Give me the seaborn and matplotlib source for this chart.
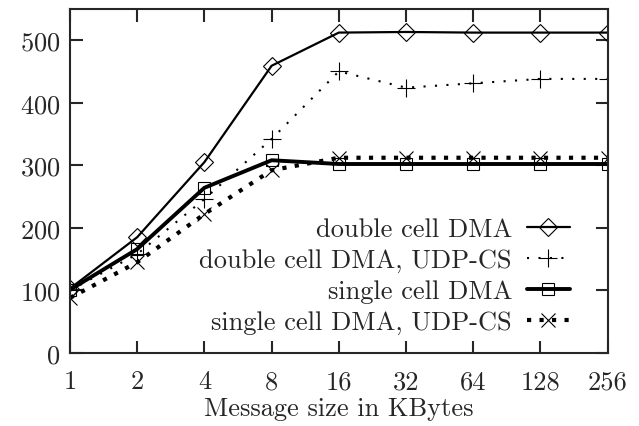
import numpy as np
import matplotlib
matplotlib.use("Agg")
import matplotlib.pyplot as plt
import pandas as pd
import seaborn as sns

sizes = ["1", "2", "4", "8", "16", "32", "64", "128", "256"]

double_dma = [103, 185, 305, 459, 512, 513, 512, 512, 512]
double_udp = [100, 158, 246, 342, 450, 424, 431, 438, 438]
single_dma = [101, 166, 264, 308, 302, 302, 302, 302, 302]
single_udp = [88, 145, 222, 292, 312, 312, 312, 312, 312]

labels = ["double cell DMA", "double cell DMA, UDP-CS",
          "single cell DMA", "single cell DMA, UDP-CS"]

sns.set_style("ticks")
plt.rcParams['font.family'] = ['cmr10', 'DejaVu Serif']
plt.rcParams['axes.formatter.use_mathtext'] = True

fig = plt.figure(figsize=(6.39, 4.27), dpi=100)
ax = fig.add_axes([0.1095, 0.171, 0.8415, 0.806])

x = np.arange(len(sizes))
series = [double_dma, double_udp, single_dma, single_udp]
styles = [
    dict(linestyle="-", linewidth=1.6, marker="D", markersize=9),
    dict(linestyle=(0, (1, 4.5)), linewidth=1.5, marker="+", markersize=13),
    dict(linestyle="-", linewidth=2.8, marker="s", markersize=9),
    dict(linestyle=(0, (1, 2)), linewidth=3.0, marker="x", markersize=10),
]

for vals, lab, st in zip(series, labels, styles):
    df = pd.DataFrame({"size": x, "bw": vals})
    sns.lineplot(data=df, x="size", y="bw", ax=ax, color="black", label=lab,
                 markerfacecolor="none", markeredgecolor="black",
                 markeredgewidth=0.8, **st)

fs = 19
ax.set_xlim(0, 8)
ax.set_ylim(0, 550)
ax.set_xticks(x)
ax.set_xticklabels(sizes)
ax.set_yticks([0, 100, 200, 300, 400, 500])
ax.tick_params(direction="in", length=9, width=1.5, top=True, right=True,
               labelsize=fs)
ax.tick_params(axis="x", pad=12)
ax.tick_params(axis="y", pad=7)
for sp in ax.spines.values():
    sp.set_linewidth(1.5)
ax.set_xlabel("Message size in KBytes", fontsize=fs, labelpad=2)
ax.set_ylabel("")

ax.legend(loc="lower right", bbox_to_anchor=(0.93, 0.055), frameon=False,
          markerfirst=False, fontsize=fs, handlelength=1.65,
          labelspacing=0.27, handletextpad=0.55, borderpad=0,
          borderaxespad=0)

fig.savefig("out.png", dpi=100)
